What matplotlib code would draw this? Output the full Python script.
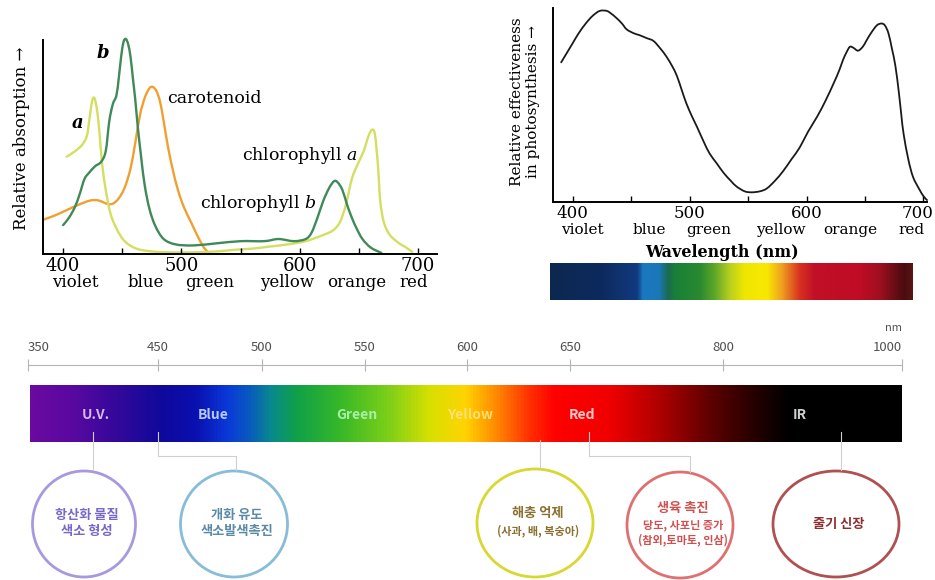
import numpy as np
import matplotlib
matplotlib.use('Agg')
import matplotlib.pyplot as plt
import matplotlib.transforms as mtransforms
from matplotlib.colors import LinearSegmentedColormap
from matplotlib.patches import Ellipse, PathPatch
from matplotlib.path import Path

plt.rcParams['font.family'] = ['DejaVu Serif']
plt.rcParams['mathtext.fontset'] = 'dejavuserif'

# absorption spectra of the leaf pigments (relative units)
chl_a_wl = [403, 410, 416, 420, 422, 424, 425.5, 427, 429, 431, 433, 436, 440, 445, 452, 462, 475, 490,
            510, 530, 545, 560, 575, 590, 605, 618, 628, 634, 639, 644, 649, 654, 658, 661, 663.5, 666,
            668, 671, 676, 684, 690, 695]
chl_a_abs = [45.5, 48, 51, 55, 62, 70, 73, 72, 66, 55, 42, 30, 19, 12, 6, 2.5, 1.2, 0.8,
             0.8, 1.2, 2, 2.5, 3.5, 4.5, 6, 8.5, 11, 15, 23, 35, 42, 48, 55, 58, 56, 42,
             25, 15, 9, 5, 3, 1]

chl_b_wl = [400, 405, 410, 414, 418, 422, 427, 432, 436, 439, 442, 445, 447, 449, 451, 453, 455, 457,
            459, 461, 463, 466, 469, 473, 478, 485, 495, 510, 530, 550, 570, 582, 595, 605, 610, 615,
            620, 625, 629, 632, 636, 640, 644, 648, 653, 660, 669]
chl_b_abs = [13.5, 17, 22, 28, 35, 38, 41, 43, 48, 62, 70, 74, 82, 92, 99, 100.5, 98, 92,
             82, 72, 60, 45, 32, 21, 13, 7, 4.5, 4, 5, 6, 6, 7, 6, 7, 10, 17,
             25, 31, 34, 33.5, 30, 23, 17, 12, 7, 3, 0.5]

carot_wl = [383, 393, 403, 413, 423, 430, 437, 442, 447, 452, 457, 461, 465, 469, 473, 476, 479, 482,
            485, 488, 492, 497, 502, 508, 514, 519, 524]
carot_abs = [16, 18, 20.5, 23, 25, 25, 23.5, 23.5, 26, 31, 40, 52, 65, 73, 77.5, 78, 76, 71,
             62, 52, 41, 30, 22, 15, 8, 3, 0]

# action spectrum of photosynthesis
action_wl = [390, 395, 400, 405, 411, 417, 423, 429, 433, 437, 442, 446, 452, 457, 463, 469, 475, 480,
             485, 489, 493, 497, 502, 506, 512, 517, 523, 529, 535, 540, 547, 553, 560, 566, 573, 580,
             587, 594, 601, 609, 616, 623, 628, 631, 634, 637, 640, 644, 648, 651, 655, 660, 664, 667,
             670, 673, 676, 679, 681, 683, 687, 691, 696, 700, 703]
action_eff = [72, 77, 82, 87, 92, 96, 98.5, 98.5, 97, 95, 92, 89, 87, 86, 84.5, 83, 79, 75,
              70, 65, 58, 51, 44, 39, 31, 25, 20, 15, 11, 8, 5.5, 5, 5.5, 7, 11, 16,
              22, 28, 36, 44, 52, 61, 68, 73, 77, 80, 79.5, 78, 80, 83, 87, 91, 92, 91,
              87, 79, 70, 56, 45, 35, 22, 13, 7, 3, 1]

wl_ticks = [400, 500, 600, 700]
wl_minor = [450, 550, 650]
band_names = ['violet', 'blue', 'green', 'yellow', 'orange', 'red']

# wavelength scale of the light-quality diagram
scale_nm = [350, 450, 500, 550, 600, 650, 800, 1000]
bar_labels = ['U.V.', 'Blue', 'Green', 'Yellow', 'Red', 'IR']
effects = ['항산화 물질\n색소 형성', '개화 유도\n색소발색촉진', '해충 억제\n(사과, 배, 복숭아)',
           '생육 촉진\n당도, 사포닌 증가\n(참외,토마토, 인삼)', '줄기 신장']

W, H = 935, 580
fig = plt.figure(figsize=(W / 100, H / 100), dpi=100)


def box(x0, y0, x1, y1):
    return [x0 / W, 1 - y1 / H, (x1 - x0) / W, (y1 - y0) / H]


def smooth_curve(ax, x, y, color, lw):
    # Catmull-Rom curve through every measured point, drawn as cubic Bezier segments
    pts = np.column_stack([x, y]).astype(float)
    n = len(pts)
    verts, codes = [pts[0]], [Path.MOVETO]
    for i in range(n - 1):
        p0, p1, p2, p3 = pts[max(i - 1, 0)], pts[i], pts[i + 1], pts[min(i + 2, n - 1)]
        verts += [p1 + (p2 - p0) / 6, p2 - (p3 - p1) / 6, p2]
        codes += [Path.CURVE4] * 3
    ax.add_patch(PathPatch(Path(verts, codes), fill=False, ec=color, lw=lw, clip_on=False,
                           capstyle='round', joinstyle='round'))


canvas = fig.add_axes([0, 0, 1, 1], zorder=0)
canvas.set_xlim(0, W)
canvas.set_ylim(H, 0)
canvas.axis('off')


def style_spectrum_axes(ax, xmax, size):
    ax.set_facecolor('none')
    ax.set_xlim(383, xmax)
    ax.set_ylim(0, 100)
    for s in ['top', 'right']:
        ax.spines[s].set_visible(False)
    for s in ['left', 'bottom']:
        ax.spines[s].set_linewidth(1.4)
    ax.set_yticks([])
    ax.set_xticks(wl_ticks)
    ax.set_xticklabels([str(t) for t in wl_ticks])
    ax.set_xticks(wl_minor, minor=True)
    ax.tick_params(axis='x', which='both', direction='in', length=4, width=1, pad=2, labelsize=size)


# --- absorption spectra ---
ax1 = fig.add_axes(box(43, 40, 437, 254), zorder=2)
style_spectrum_axes(ax1, 716, 13)
smooth_curve(ax1, carot_wl, carot_abs, '#f0a030', 1.7)
smooth_curve(ax1, chl_a_wl, chl_a_abs, '#d4de60', 1.7)
smooth_curve(ax1, chl_b_wl, chl_b_abs, '#3f8a58', 1.7)
for name, wl in zip(band_names, [410, 470, 524, 589, 648, 696]):
    ax1.text(wl, -0.131, name, transform=ax1.get_xaxis_transform(), ha='center', va='center', fontsize=12)
ax1.text(434, 94, 'b', style='italic', fontweight='bold', fontsize=13, ha='center', va='center')
ax1.text(412, 61, 'a', style='italic', fontweight='bold', fontsize=13, ha='center', va='center')
ax1.text(488, 72.5, 'carotenoid', fontsize=12.5, va='center')
ax1.text(551, 46, r'chlorophyll $a$', fontsize=12.5, va='center')
ax1.text(516, 23.4, r'chlorophyll $b$', fontsize=12.5, va='center')
canvas.text(22, 138, 'Relative absorption →', rotation=90, ha='center', va='center', fontsize=12)

# --- action spectrum ---
ax2 = fig.add_axes(box(553, 8, 927, 202), zorder=2)
style_spectrum_axes(ax2, 703, 12)
# last tick label sits against the right edge of the figure
last = ax2.get_xticklabels()[-1]
last.set_ha('right')
last.set_transform(last.get_transform() + mtransforms.ScaledTranslation(0.1, 0, fig.dpi_scale_trans))
smooth_curve(ax2, action_wl, action_eff, '#1a1a1a', 1.3)
for name, wl in zip(band_names, [408, 465, 516, 578, 637, 690]):
    ax2.text(wl, -0.144, name, transform=ax2.get_xaxis_transform(), ha='center', va='center', fontsize=11)
ax2.text(0.452, -0.258, 'Wavelength (nm)', transform=ax2.transAxes, ha='center', va='center',
         fontsize=11.5, fontweight='bold')
canvas.text(517, 102, 'Relative effectiveness', rotation=90, ha='center', va='center', fontsize=11)
canvas.text(533, 102, 'in photosynthesis →', rotation=90, ha='center', va='center', fontsize=11)

top_stops = [(0.0, '#0c2850'), (0.14, '#0d2a5e'), (0.24, '#123a80'), (0.255, '#1a78c0'), (0.30, '#1a78b8'),
             (0.325, '#1a6a50'), (0.345, '#1a8038'), (0.413, '#2a8a30'), (0.455, '#60a828'),
             (0.496, '#b8d020'), (0.537, '#f0e600'), (0.598, '#f8e800'), (0.639, '#f0a020'),
             (0.689, '#d83020'), (0.73, '#c01028'), (0.854, '#c00c25'), (0.909, '#a01020'),
             (0.978, '#4a0c10'), (1.0, '#5a1414')]
grad = np.linspace(0, 1, 512)[None, :]
canvas.imshow(grad, cmap=LinearSegmentedColormap.from_list('top_bar', top_stops), aspect='auto',
              extent=(550, 913, 300, 263), zorder=1)

# --- light quality diagram ---
bar_stops = [(0.0, '#6a0aa0'), (0.046, '#5a08a0'), (0.103, '#30089a'), (0.149, '#10089c'),
             (0.19, '#0a10b0'), (0.225, '#0a38d8'), (0.25, '#0858c0'), (0.275, '#088890'),
             (0.305, '#10a048'), (0.356, '#38b828'), (0.413, '#80d018'), (0.459, '#d8e000'),
             (0.499, '#ffd400'), (0.539, '#ff8000'), (0.573, '#ff3000'), (0.602, '#ff0000'),
             (0.665, '#f00000'), (0.722, '#b00000'), (0.78, '#600000'), (0.837, '#200000'),
             (0.872, '#000000'), (1.0, '#000000')]
canvas.imshow(grad, cmap=LinearSegmentedColormap.from_list('light_bar', bar_stops), aspect='auto',
              extent=(30, 902, 442, 385), zorder=1)

sfont = ['Noto Sans CJK KR', 'DejaVu Sans']
tick_frac = [0, 0.1487, 0.2677, 0.3856, 0.5023, 0.6201, 0.7952, 1.0]
ax3 = fig.add_axes(box(28, 365, 902, 366), zorder=2)
ax3.set_facecolor('none')
ax3.set_xscale('function', functions=(lambda v: np.interp(v, scale_nm, tick_frac),
                                      lambda f: np.interp(f, tick_frac, scale_nm)))
ax3.set_xlim(350, 1000)
ax3.set_yticks([])
for s in ['bottom', 'left', 'right']:
    ax3.spines[s].set_visible(False)
ax3.spines['top'].set_color('#b4b4b4')
ax3.xaxis.set_ticks_position('top')
ax3.set_xticks(scale_nm)
ax3.set_xticklabels([str(v) for v in scale_nm], family=sfont, fontsize=9.5, color='#505050')
ax3.xaxis.set_minor_locator(matplotlib.ticker.NullLocator())
ax3.tick_params(axis='x', direction='inout', length=8, width=0.8, color='#b4b4b4', pad=4)
labels = ax3.get_xticklabels()
labels[0].set_ha('left')
labels[-1].set_ha('right')
canvas.text(902, 328, 'nm', ha='right', va='center', family=sfont, fontsize=8, color='#505050')

label_colors = ['#d8b8f0', '#b8c8ff', '#a8f0a8', '#ffe070', '#ffc8c8', '#d0d0d0']
for name, x, c in zip(bar_labels, [96, 213, 357, 470, 582, 800], label_colors):
    canvas.text(x, 415, name, ha='center', va='center', color=c, family=sfont, fontsize=10,
                fontweight='bold', zorder=3)

# connector lines from the bar to the effect circles
conn = dict(color='#cfcfcf', lw=0.8, zorder=3)
canvas.plot([93, 93], [432, 470], **conn)
canvas.plot([158, 158, 236, 236], [432, 456, 456, 470], **conn)
canvas.plot([540, 540], [440, 468], **conn)
canvas.plot([589, 589, 690, 690], [432, 456, 456, 472], **conn)
canvas.plot([841, 841], [432, 470], **conn)

circles = [(84, 524, 103, 106, '#a898e0', '#7a68c8'),
           (234, 524, 107, 106, '#88bcd8', '#5a8aa8'),
           (535, 523, 116, 108, '#d8d830', '#8a7030'),
           (680, 525, 106, 106, '#e07070', '#d05050'),
           (836, 524, 126, 106, '#b05050', '#8a3030')]
for (cx, cy, w, h, ec, tc), txt in zip(circles, effects):
    canvas.add_patch(Ellipse((cx, cy), w, h, fill=False, ec=ec, lw=2, zorder=2))
    lines = txt.split('\n')
    top = cy - (len(lines) - 1) * 7.5 - (2 if len(lines) > 1 else 0)
    canvas.text(cx + 3, top, lines[0], ha='center', va='center', color=tc, family=sfont,
                fontsize=9.5, fontweight='bold', zorder=3)
    for i, ln in enumerate(lines[1:], start=1):
        size = 9.5 if cx < 300 else 8
        canvas.text(cx + 3, cy - (len(lines) - 1) * 7.5 + i * 15, ln, ha='center', va='center',
                    color=tc, family=sfont, fontsize=size, fontweight='bold', zorder=3)

fig.savefig('out.png', dpi=100)
